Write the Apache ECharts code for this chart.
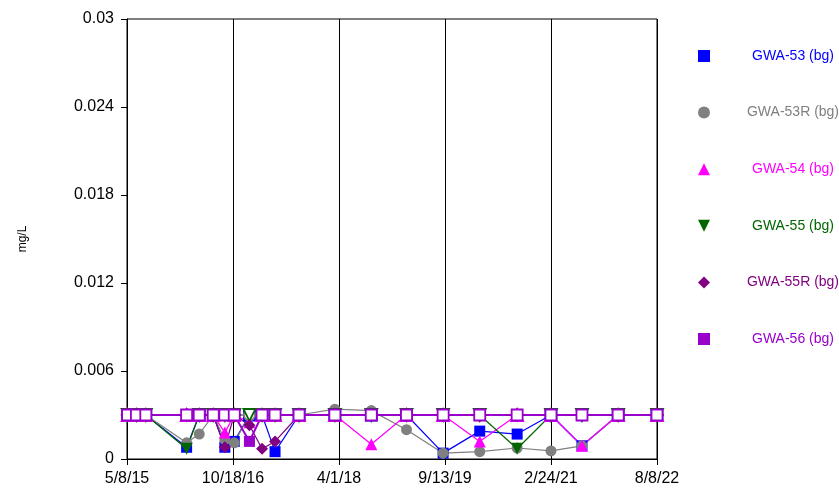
<!DOCTYPE html>
<html><head><meta charset="utf-8">
<script src="https://cdn.jsdelivr.net/npm/echarts@6/dist/echarts.min.js"></script>
<style>html,body{margin:0;padding:0;background:#fff}#c{width:839px;height:489px}</style>
</head><body><div id="c"></div>
<script>
const ND = 'ND';
const RL = 0.003;
const sampleDates = ['5/11/15','6/24/15','8/10/15','3/1/16','5/3/16','7/12/16','9/8/16','10/25/16','1/9/17','3/13/17','5/17/17','9/14/17','3/12/18','9/10/18','3/5/19','9/4/19','3/5/20','9/8/20','2/24/21','7/29/21','1/26/22','8/8/22'];
const seriesNames = ['GWA-53 (bg)','GWA-53R (bg)','GWA-54 (bg)','GWA-55 (bg)','GWA-55R (bg)','GWA-56 (bg)'];
const gwa53  = [ND,ND,ND,0.0008,ND,ND,0.0008,0.0012,ND,ND,0.0005,ND,ND,ND,ND,0.0004,0.0019,0.0017,ND,0.0009,ND,ND];
const gwa53R = [ND,ND,ND,0.0011,0.0017,ND,0.0013,0.0011,ND,ND,ND,ND,0.0034,0.0033,0.0020,0.0004,0.0005,0.00075,0.00055,0.0009,ND,ND];
const gwa54  = [ND,ND,ND,ND,ND,ND,0.0018,ND,0.0025,ND,ND,ND,ND,0.001,ND,ND,0.0012,ND,ND,0.0009,ND,ND];
const gwa55  = [ND,ND,ND,0.0007,ND,ND,ND,ND,ND,ND,ND,ND,ND,ND,ND,ND,ND,0.0007,ND,ND,ND,ND];
const gwa55R = [ND,ND,ND,ND,ND,ND,0.0008,ND,0.0023,0.0007,0.0012,ND,ND,ND,ND,ND,ND,ND,ND,ND,ND,ND];
const gwa56  = [ND,ND,ND,ND,ND,ND,ND,ND,0.0012,ND,ND,ND,ND,ND,ND,ND,ND,ND,ND,ND,ND,ND];
const axisStart = '5/8/15', axisEnd = '8/8/22';

function toUTC(s){const p=s.split('/').map(Number);return Date.UTC(2000+p[2],p[0]-1,p[1]);}
const START = toUTC(axisStart);
function dayOf(s){return Math.round((toUTC(s)-START)/86400000);}
function fmt(v){const dt=new Date(START+Math.floor(v+1e-6)*86400000);return (dt.getUTCMonth()+1)+'/'+dt.getUTCDate()+'/'+String(dt.getUTCFullYear()).slice(2);}

const values=[gwa53,gwa53R,gwa54,gwa55,gwa55R,gwa56];
const colors=['#0000FF','#808080','#FF00FF','#006600','#800080','#9900CC'];
const triDown='path://M0,0 L10,0 L5,10 Z';
const symbols=['rect','circle','triangle',triDown,'diamond','rect'];
const sizes=[11,11,12,12,12,11];
const widths=[1.2,1.2,1.2,1.2,1.2,2];
const maxDay=dayOf(axisEnd);
const FONT='Liberation Sans, Arial, sans-serif';

const series=values.map((arr,i)=>({
  name:seriesNames[i], type:'line', clip:false,
  symbol:symbols[i], symbolSize:sizes[i], showAllSymbol:true,
  lineStyle:{color:colors[i],width:widths[i]},
  itemStyle:{color:colors[i]},
  emphasis:{disabled:true},
  data:arr.map((v,j)=>{
    const x=dayOf(sampleDates[j]);
    if(v===ND) return {value:[x,RL],itemStyle:{color:'#FFFFFF',borderColor:colors[i],borderWidth:1.8}};
    return {value:[x,v]};
  })
}));

const chart=echarts.init(document.getElementById('c'),null,{renderer:'canvas'});
chart.setOption({
  animation:false,
  backgroundColor:'#fff',
  grid:{left:127,right:182,top:19,bottom:30,show:true,borderColor:'#000',borderWidth:1,backgroundColor:'transparent'},
  xAxis:{type:'value',min:0,max:maxDay,interval:maxDay/5,
    axisLine:{lineStyle:{color:'#000',width:1}},
    axisTick:{show:true,inside:false,length:6,lineStyle:{color:'#000'}},
    splitLine:{show:true,lineStyle:{color:'#000',width:1}},
    axisLabel:{formatter:fmt,color:'#000',fontFamily:FONT,fontSize:16,margin:12,showMinLabel:true,showMaxLabel:true}},
  yAxis:{type:'value',min:0,max:0.03,interval:0.006,name:'mg/L',nameLocation:'middle',nameRotate:90,nameGap:98,
    nameTextStyle:{color:'#000',fontFamily:FONT,fontSize:12},
    axisLine:{show:true,lineStyle:{color:'#000',width:1}},
    axisTick:{show:true,length:6,lineStyle:{color:'#000'}},
    splitLine:{show:false},
    axisLabel:{color:'#000',fontFamily:FONT,fontSize:16,margin:13}},
  legend:{orient:'vertical',left:693,top:44,itemWidth:12,itemHeight:12,itemGap:42.6,selectedMode:false,
    data:seriesNames.map((n,i)=>({name:n,icon:symbols[i],itemStyle:{color:colors[i]},textStyle:{color:colors[i]}})),
    formatter:n=>'{a|'+n+'}',
    textStyle:{fontFamily:FONT,fontSize:14,rich:{a:{width:156,height:14,lineHeight:14,align:'center',fontFamily:FONT,fontSize:14}}}},
  series:series
});
</script></body></html>
